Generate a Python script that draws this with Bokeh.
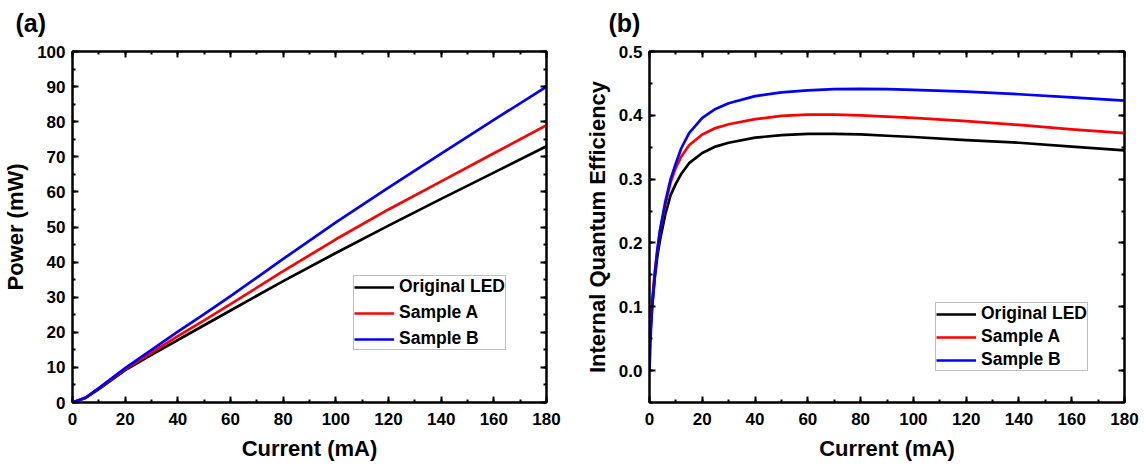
from bokeh.plotting import figure
from bokeh.layouts import row
from bokeh.models import (Legend, LegendItem, LinearAxis, SingleIntervalTicker,
                          CustomJSTickFormatter, NumeralTickFormatter, Range1d)
from bokeh.embed import file_html
from bokeh.resources import INLINE

# ---- data: panel (a) light output power ----
current_p = [0, 5, 10, 20, 30, 40, 50, 60, 70, 80, 100, 120, 140, 160, 180]
power_orig = [0, 1.3, 3.8, 9.2, 13.6, 17.8, 22.0, 26.2, 30.4, 34.6, 42.6, 50.4, 58.0,
              65.5, 73.0]
power_a = [0, 1.4, 4.0, 9.5, 14.2, 18.9, 23.4, 28.0, 32.7, 37.4, 46.5, 55.0, 63.0,
           71.0, 79.0]
power_b = [0, 1.4, 4.1, 9.8, 15.0, 20.2, 25.2, 30.3, 35.6, 40.9, 51.3, 61.2, 70.9,
           80.5, 90.0]

# ---- data: panel (b) internal quantum efficiency ----
current_q = [0, 0.5, 1, 2, 3, 4, 6, 8, 10, 12, 15, 20, 25, 30, 40, 50, 60, 70, 80,
             90, 100, 120, 140, 160, 180]
iqe_orig = [0.04, 0.07, 0.10, 0.145, 0.18, 0.205, 0.245, 0.275, 0.293, 0.308, 0.325,
            0.341, 0.351, 0.357, 0.365, 0.369, 0.371, 0.371, 0.370, 0.368, 0.366,
            0.361, 0.357, 0.351, 0.345]
iqe_a = [0.05, 0.08, 0.11, 0.155, 0.19, 0.22, 0.26, 0.295, 0.318, 0.335, 0.353,
         0.370, 0.380, 0.386, 0.394, 0.399, 0.401, 0.401, 0.400, 0.398, 0.396,
         0.391, 0.385, 0.378, 0.372]
iqe_b = [0.0, 0.06, 0.10, 0.15, 0.19, 0.22, 0.265, 0.30, 0.325, 0.348, 0.372,
         0.396, 0.410, 0.419, 0.430, 0.436, 0.439, 0.441, 0.4415, 0.441, 0.440,
         0.437, 0.433, 0.428, 0.423]

series_labels = ["Original LED", "Sample A", "Sample B"]
series_colors = ["black", "#ff0000", "#0000ff"]

FONT = "Liberation Sans"
HEIGHT = 463


def style_axis(ax, ticker, show_labels=True, fmt=None):
    ax.ticker = ticker
    ax.axis_line_width = 2
    ax.axis_line_color = "black"
    ax.major_tick_in = 6
    ax.major_tick_out = 0
    ax.minor_tick_in = 3
    ax.minor_tick_out = 0
    ax.major_tick_line_width = 2
    ax.minor_tick_line_width = 2
    ax.major_tick_line_color = "black"
    ax.minor_tick_line_color = "black"
    ax.major_label_text_font = FONT
    ax.major_label_text_font_style = "bold"
    ax.major_label_text_font_size = "17px"
    ax.major_label_text_color = "black"
    ax.axis_label_text_font = FONT
    ax.axis_label_text_font_style = "bold"
    ax.axis_label_text_font_size = "22px"
    ax.axis_label_text_color = "black"
    if not show_labels:
        ax.formatter = CustomJSTickFormatter(code="return ''")
        ax.major_label_standoff = 0
        ax.major_label_text_font_size = "0px"
    elif fmt is not None:
        ax.formatter = fmt


def make_panel(width, border_left, border_right, xr, yr, yinterval, yfmt, ylabel):
    p = figure(width=width, height=HEIGHT, output_backend="svg", toolbar_location=None,
               x_range=Range1d(*xr), y_range=Range1d(*yr),
               min_border_left=border_left, min_border_right=border_right,
               min_border_top=51, min_border_bottom=40,
               x_axis_label="Current (mA)", y_axis_label=ylabel)
    p.grid.visible = False
    p.outline_line_color = "black"
    p.outline_line_width = 2
    p.background_fill_color = "white"
    p.border_fill_color = "white"
    xt = lambda: SingleIntervalTicker(interval=20, num_minor_ticks=2)
    yt = lambda: SingleIntervalTicker(interval=yinterval, num_minor_ticks=2)
    style_axis(p.xaxis[0], xt())
    p.xaxis[0].major_label_standoff = 10
    p.xaxis[0].axis_label_standoff = 8
    style_axis(p.yaxis[0], yt(), fmt=yfmt)
    p.yaxis[0].major_label_standoff = 7
    p.yaxis[0].axis_label_standoff = 6
    top = LinearAxis()
    style_axis(top, xt(), show_labels=False)
    # reserve a little room between the frame and the panel letter
    top.axis_label = "\u00a0"
    top.axis_label_text_font_size = "10px"
    top.axis_label_standoff = 1
    p.add_layout(top, "above")
    right = LinearAxis()
    style_axis(right, yt(), show_labels=False)
    p.add_layout(right, "right")
    return p


def add_series(p, xs, ys_list, loc, spacing):
    items = []
    for ys, lab, col in zip(ys_list, series_labels, series_colors):
        r = p.line(xs, ys, line_color=col, line_width=2.7, line_join="round")
        items.append(LegendItem(label=lab, renderers=[r]))
    leg = Legend(items=items, location=loc)
    leg.border_line_color = "#808080"
    leg.border_line_width = 1
    leg.background_fill_color = "white"
    leg.background_fill_alpha = 1
    leg.label_text_font = FONT
    leg.label_text_font_style = "bold"
    leg.label_text_font_size = "17.5px"
    leg.label_text_color = "black"
    leg.glyph_width = 40
    leg.glyph_height = 20
    leg.label_height = 20
    leg.spacing = spacing
    leg.padding = 0
    leg.margin = 0
    leg.label_standoff = 5
    p.add_layout(leg)


def panel_title(p, text, offset):
    p.title.text = text
    p.title.align = "left"
    p.title.offset = offset
    p.title.text_font = FONT
    p.title.text_font_style = "bold"
    p.title.text_font_size = "25px"
    p.title.text_color = "black"
    p.title.standoff = 0


p1 = make_panel(576, 72, 30, (0, 180), (0, 100), 10, None, "Power (mW)")
add_series(p1, current_p, [power_orig, power_a, power_b], (281, 52), 5)
panel_title(p1, "(a)", -57)

p2 = make_panel(564, 73, 16, (0, 180), (-0.05, 0.5), 0.1,
                NumeralTickFormatter(format="0.0"), "Internal Quantum Efficiency")
add_series(p2, current_q, [iqe_orig, iqe_a, iqe_b], (286, 31), 2)
panel_title(p2, "(b)", -41)

layout = row(p1, p2)
open("out.html", "w").write(file_html(layout, INLINE))
